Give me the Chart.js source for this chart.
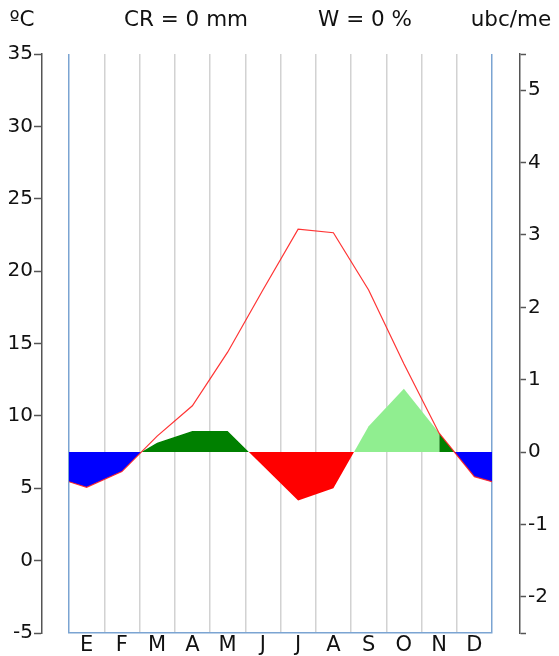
<!DOCTYPE html>
<html>
<head>
<meta charset="utf-8">
<script src="https://cdn.jsdelivr.net/npm/chart.js"></script>
<style>
  html, body { margin: 0; padding: 0; background: #fff; }
  #wrap { position: relative; width: 559px; height: 656px; }
</style>
</head>
<body>
<div id="wrap"><canvas id="diagram"></canvas></div>
<script>
// --- 1. Data ---
const months = ['E', 'F', 'M', 'A', 'M', 'J', 'J', 'A', 'S', 'O', 'N', 'D'];
const tempC = [5.07, 6.15, 8.6, 10.7, 14.4, 18.7, 22.9, 22.65, 18.7, 13.6, 8.8, 5.8];
const tempEdge = 5.45;               // value at 1 Jan / 31 Dec
const ibr = [null, null, 0.13, 0.29, 0.29, -0.19, -0.67, -0.5, null, null, null, null];
const ibc = [null, null, null, null, null, null, null, null, 0.355, 0.876, 0.264, null];
const tempTicks = [-5, 0, 5, 10, 15, 20, 25, 30, 35];
const ubcTicks = [-2.5, -2, -1, 0, 1, 2, 3, 4, 5, 5.5];
const headerTexts = ['ºC', 'CR = 0 mm', 'W = 0 %', 'ubc/me'];

const T_BASE = 7.5;     // ºC that matches 0 ubc
const T_PER_UBC = 5;    // ºC per ubc
const T_MIN = -5, T_MAX = 35;

const FONT = 'DejaVu Sans';
const PLOT_BLUE = '#7ba4d2';

// --- 2. Helpers ---
function crossX(x0, y0, x1, y1, level) {
    return x0 + (level - y0) / (y1 - y0) * (x1 - x0);
}
const pt = (i, v) => ({ x: i + 0.5, y: v });

const tempPts = [{ x: 0, y: tempEdge }, ...tempC.map((t, i) => pt(i, t)), { x: 12, y: tempEdge }];

// cold stop at the start of the year: Jan, Feb up to the 7.5 crossing
const springStart = crossX(1.5, tempC[1], 2.5, tempC[2], T_BASE);
const coldStartPts = [tempPts[0], pt(0, tempC[0]), pt(1, tempC[1]), { x: springStart, y: T_BASE }];
// end of year: from November on
const coldEndPts = [pt(10, tempC[10]), pt(11, tempC[11]), { x: 12, y: tempEdge }];

// real bioclimatic intensity (M..A)
const ibrEnd = crossX(7.5, ibr[7], 8.5, ibc[8], 0);
const ibrPts = [{ x: springStart, y: 0 }];
for (let i = 2; i <= 7; i++) ibrPts.push(pt(i, ibr[i]));
ibrPts.push({ x: ibrEnd, y: 0 });

// conditioned intensity (S..N)
const ibcPts = [{ x: ibrEnd, y: 0 }];
for (let i = 8; i <= 10; i++) ibcPts.push(pt(i, ibc[i]));

// --- 3. Plugin for header texts ---
const headerPlugin = {
    id: 'header',
    afterDraw(chart) {
        const ctx = chart.ctx;
        const xs = [22, 186, 365, 511];
        ctx.save();
        ctx.font = `21.5px "${FONT}"`;
        ctx.fillStyle = '#111';
        ctx.textAlign = 'center';
        ctx.textBaseline = 'alphabetic';
        headerTexts.forEach((t, i) => ctx.fillText(t, xs[i], 26));
        ctx.restore();
    }
};

const fillSet = (data, axis, fill, order) => ({
    data, yAxisID: axis, fill, order,
    borderWidth: 0, pointRadius: 0, tension: 0, borderColor: 'rgba(0,0,0,0)'
});

// --- 4. Chart ---
new Chart(document.getElementById('diagram'), {
    type: 'line',
    data: {
        datasets: [
            {
                data: tempPts, yAxisID: 'y', order: 0, fill: false,
                borderColor: 'rgba(255,30,30,0.9)', borderWidth: 1.2, pointRadius: 0, tension: 0
            },
            fillSet(ibcPts, 'y1', { target: 'origin', above: '#90ee90', below: 'rgba(0,0,0,0)' }, 1),
            fillSet(ibrPts, 'y1', { target: 'origin', above: '#008000', below: '#ff0000' }, 2),
            fillSet(coldStartPts, 'y', { target: { value: T_BASE }, above: 'rgba(0,0,0,0)', below: '#0000ff' }, 3),
            fillSet(coldEndPts, 'y', { target: { value: T_BASE }, above: '#008000', below: '#0000ff' }, 3)
        ]
    },
    options: {
        responsive: true,
        maintainAspectRatio: false,
        animation: false,
        layout: { padding: { top: 54, left: 0, right: 0, bottom: 0 } },
        plugins: { legend: { display: false }, tooltip: { enabled: false } },
        scales: {
            x: {
                type: 'linear', min: 0, max: 12,
                afterBuildTicks: s => { s.ticks = Array.from({ length: 25 }, (_, i) => ({ value: i / 2 })); },
                afterFit: s => { s.height = 23; },
                ticks: {
                    autoSkip: false, maxRotation: 0, padding: 0,
                    color: '#111', font: { family: FONT, size: 21 },
                    callback: v => (v % 1 === 0.5 ? months[Math.floor(v)] : '')
                },
                grid: {
                    drawTicks: false,
                    color: c => {
                        const v = c.tick ? c.tick.value : 0;
                        if (v === 0 || v === 12) return PLOT_BLUE;
                        return Number.isInteger(v) ? '#d2d2d2' : 'rgba(0,0,0,0)';
                    },
                    lineWidth: c => (c.tick && Number.isInteger(c.tick.value) ? 1.5 : 0)
                },
                border: { display: true, color: PLOT_BLUE, width: 1.5 }
            },
            gapL: {
                type: 'linear', position: 'left', weight: 0, display: true,
                ticks: { display: false }, grid: { display: false }, border: { display: false },
                afterFit: s => { s.width = 27; }
            },
            y: {
                type: 'linear', position: 'left', weight: 10,
                min: T_MIN, max: T_MAX,
                afterBuildTicks: s => { s.ticks = tempTicks.map(v => ({ value: v })); },
                afterFit: s => { s.width = 42; },
                ticks: { padding: 1, color: '#111', font: { family: FONT, size: 20 } },
                grid: { drawOnChartArea: false, drawTicks: true, tickLength: 8, tickColor: '#555', tickWidth: 1.5 },
                border: { display: true, color: '#555', width: 1.5 }
            },
            gapR: {
                type: 'linear', position: 'right', weight: 0, display: true,
                ticks: { display: false }, grid: { display: false }, border: { display: false },
                afterFit: s => { s.width = 28; }
            },
            y1: {
                type: 'linear', position: 'right', weight: 10,
                min: (T_MIN - T_BASE) / T_PER_UBC, max: (T_MAX - T_BASE) / T_PER_UBC,
                afterBuildTicks: s => { s.ticks = ubcTicks.map(v => ({ value: v })); },
                afterFit: s => { s.width = 39; },
                ticks: {
                    padding: 2, color: '#111', font: { family: FONT, size: 20 },
                    callback: v => (Number.isInteger(v) ? String(v) : '')
                },
                grid: { drawOnChartArea: false, drawTicks: true, tickLength: 6, tickColor: '#555', tickWidth: 1.5 },
                border: { display: true, color: '#555', width: 1.5 }
            }
        }
    },
    plugins: [headerPlugin]
});
</script>
</body>
</html>
